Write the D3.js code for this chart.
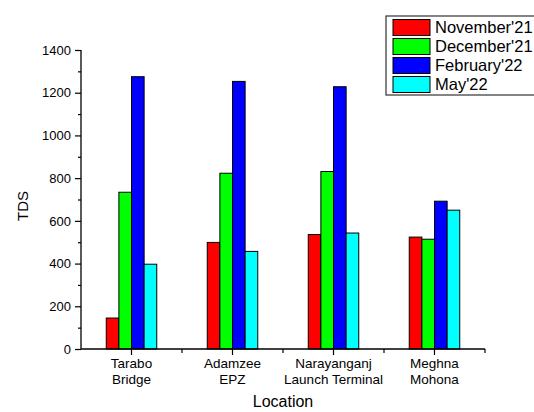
<!DOCTYPE html>
<html>
<head>
<meta charset="utf-8">
<script src="https://cdn.jsdelivr.net/npm/d3@7"></script>
<style>
  body { margin: 0; background: #fff; }
  svg { display: block; font-family: "Liberation Sans", Arial, sans-serif; }
</style>
</head>
<body>
<svg width="534" height="412"></svg>
<script>
const locations = [['Tarabo', 'Bridge'], ['Adamzee', 'EPZ'], ['Narayanganj', 'Launch Terminal'], ['Meghna', 'Mohona']];
const seriesNames = ["November'21", "December'21", "February'22", "May'22"];
const seriesColors = ['#ff0000', '#00ff00', '#0000ff', '#00ffff'];
const november21 = [145, 499, 536, 524];
const december21 = [734, 823, 831, 514];
const february22 = [1275, 1253, 1228, 692];
const may22 = [397, 457, 543, 650];
const yTicks = [0, 200, 400, 600, 800, 1000, 1200, 1400];

const values = [november21, december21, february22, may22];
const svg = d3.select('svg');

const plotLeft = 81, plotRight = 485, plotTop = 50, plotBottom = 349;

const x = d3.scaleBand()
    .domain(d3.range(locations.length))
    .range([plotLeft, plotRight])
    .padding(0);

const xs = d3.scaleBand()
    .domain(d3.range(seriesNames.length))
    .range([x.bandwidth() * 0.25, x.bandwidth() * 0.75])
    .padding(0);

const y = d3.scaleLinear().domain([0, 1400]).range([plotBottom, plotTop]);

// bars
const groups = svg.append('g')
    .selectAll('g')
    .data(locations.map((d, i) => i))
    .enter()
    .append('g')
    .attr('transform', i => `translate(${x(i)},0)`);

groups.selectAll('rect')
    .data(i => values.map((s, k) => ({ k: k, v: s[i] })))
    .enter()
    .append('rect')
    .attr('x', d => xs(d.k))
    .attr('y', d => y(d.v))
    .attr('width', xs.bandwidth())
    .attr('height', d => y(0) - y(d.v))
    .attr('fill', d => seriesColors[d.k])
    .attr('stroke', '#000')
    .attr('stroke-width', 1);

// y axis
const yAxis = svg.append('g')
    .attr('transform', `translate(${plotLeft},0)`)
    .call(d3.axisLeft(y).tickValues(yTicks).tickSize(6).tickPadding(4).tickFormat(d3.format('d')));
yAxis.selectAll('text').style('font-size', '13px').attr('fill', '#000');
yAxis.select('.domain').attr('stroke-width', 1.3).attr('d', `M0,${plotBottom}V${plotTop}`);
yAxis.selectAll('line').attr('stroke-width', 1.2);

svg.append('g')
    .attr('transform', `translate(${plotLeft},0)`)
    .call(d3.axisLeft(y).tickValues(d3.range(100, 1400, 200)).tickSize(3).tickFormat(''))
    .call(g => g.select('.domain').remove())
    .selectAll('line').attr('stroke-width', 1.2);

// x axis
const xAxis = svg.append('g')
    .attr('transform', `translate(0,${plotBottom})`)
    .call(d3.axisBottom(x).tickSize(6).tickFormat(''));
xAxis.select('.domain').attr('stroke-width', 1.3).attr('d', `M${plotLeft},0H${plotRight}`);
xAxis.selectAll('line').attr('stroke-width', 1.2);

// minor x ticks at band edges
svg.append('g')
    .selectAll('line')
    .data(d3.range(1, locations.length + 1))
    .enter()
    .append('line')
    .attr('x1', i => x(0) + i * x.step())
    .attr('x2', i => x(0) + i * x.step())
    .attr('y1', plotBottom)
    .attr('y2', plotBottom + 4)
    .attr('stroke', '#000')
    .attr('stroke-width', 1.2);

// category labels
const catLabels = svg.append('g')
    .selectAll('text')
    .data(locations)
    .enter()
    .append('text')
    .attr('text-anchor', 'middle')
    .attr('x', (d, i) => x(i) + x.bandwidth() / 2)
    .attr('y', 368)
    .style('font-size', '13.5px');
catLabels.append('tspan').attr('x', (d, i) => x(i) + x.bandwidth() / 2).text(d => d[0]);
catLabels.append('tspan').attr('x', (d, i) => x(i) + x.bandwidth() / 2).attr('dy', 16).text(d => d[1]);

// axis titles
svg.append('text')
    .attr('x', (plotLeft + plotRight) / 2)
    .attr('y', 407)
    .attr('text-anchor', 'middle')
    .style('font-size', '16px')
    .text('Location');

svg.append('text')
    .attr('transform', 'translate(28,206) rotate(-90)')
    .attr('text-anchor', 'middle')
    .style('font-size', '15px')
    .text('TDS');

// legend
const legend = svg.append('g');
legend.append('rect')
    .attr('x', 386)
    .attr('y', 16)
    .attr('width', 160)
    .attr('height', 79)
    .attr('fill', '#fff')
    .attr('stroke', '#333')
    .attr('stroke-width', 1.2);

const rows = legend.selectAll('g.row')
    .data(seriesNames)
    .enter()
    .append('g')
    .attr('class', 'row')
    .attr('transform', (d, i) => `translate(0,${19.5 + i * 19})`);

rows.append('rect')
    .attr('x', 393)
    .attr('y', 0)
    .attr('width', 37)
    .attr('height', 16)
    .attr('fill', (d, i) => seriesColors[i])
    .attr('stroke', '#000')
    .attr('stroke-width', 1);

rows.append('text')
    .attr('x', 435)
    .attr('y', 13.5)
    .style('font-size', '16.5px')
    .text(d => d);
</script>
</body>
</html>
